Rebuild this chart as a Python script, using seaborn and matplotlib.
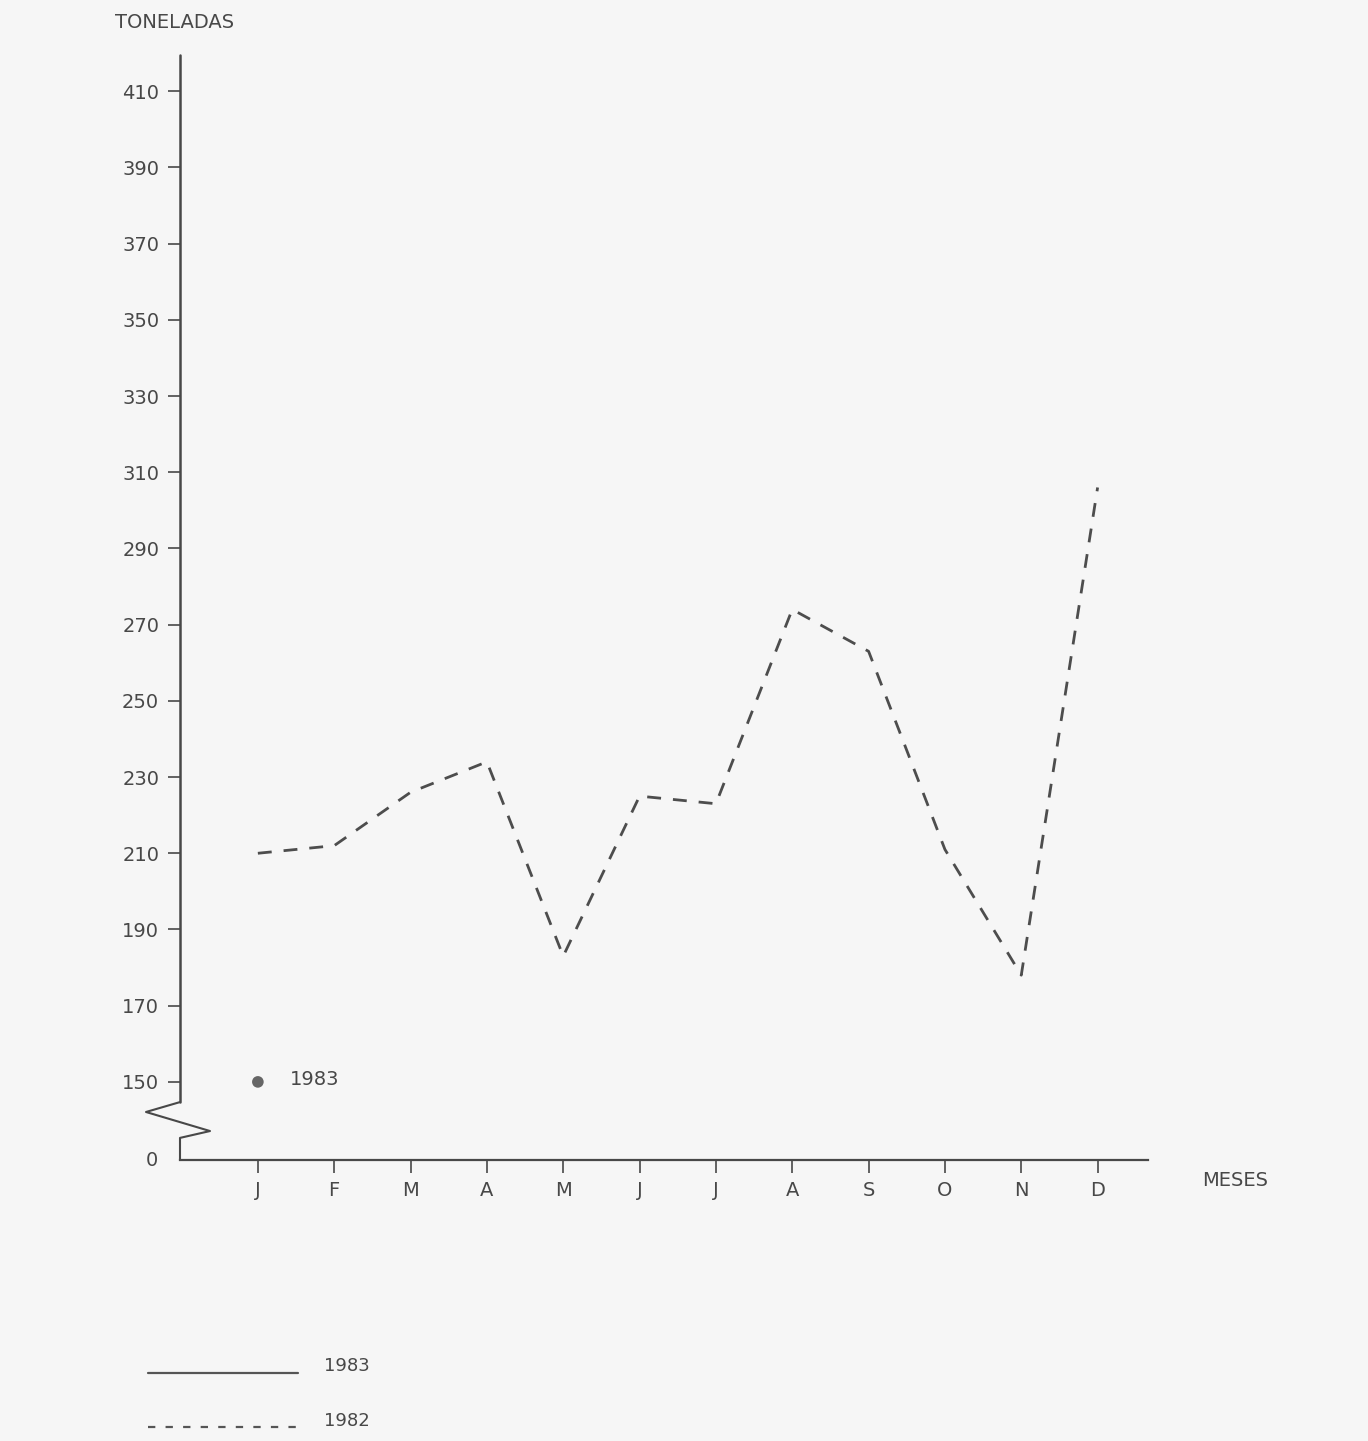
import matplotlib
matplotlib.use("Agg")
import matplotlib.pyplot as plt
from matplotlib.lines import Line2D
import seaborn as sns
import pandas as pd

# Data
months = ["J", "F", "M", "A", "M", "J", "J", "A", "S", "O", "N", "D"]
tons_1982 = [210, 212, 226, 234, 183, 225, 223, 274, 263, 211, 178, 306]
tons_1983 = [150]          # only January available
y_ticks = [150, 170, 190, 210, 230, 250, 270, 290, 310, 330, 350, 370, 390, 410]

Y_ZERO = 129.5             # where the broken axis shows "0"
INK = "#484848"

df82 = pd.DataFrame({"mes": range(len(months)), "t": tons_1982})
df83 = pd.DataFrame({"mes": range(len(tons_1983)), "t": tons_1983})

sns.set_style("white")
plt.rcParams["font.family"] = ["DejaVu Sans"]

fig = plt.figure(figsize=(13.68, 14.41), dpi=100, facecolor="#f6f6f6")
ax = fig.add_axes([180 / 1368, 281 / 1441, 968 / 1368, 1105 / 1441])
ax.set_facecolor("none")

sns.lineplot(data=df82, x="mes", y="t", ax=ax, color="#4d4d4d", linewidth=2.0,
             linestyle=(0, (5, 4.3)))
sns.scatterplot(data=df83, x="mes", y="t", ax=ax, color="#666666", s=70,
                edgecolor="none")
ax.annotate("1983", (0, tons_1983[0]), xytext=(23, 2), textcoords="offset points",
            va="center", ha="left", fontsize=14, color=INK)

ax.set_xlim(-1.02, 11.66)
ax.set_ylim(Y_ZERO, 419.5)
ax.set_xticks(range(len(months)))
ax.set_xticklabels(months)
ax.set_yticks(y_ticks)
ax.set_yticklabels([str(v) for v in y_ticks])
ax.tick_params(axis="both", direction="out", colors=INK, labelsize=14,
               length=9, width=1.2, labelcolor=INK, left=True, bottom=True)
ax.tick_params(axis="x", pad=6)
ax.tick_params(axis="y", pad=6)
ax.set_xlabel("")
ax.set_ylabel("")

for side in ["top", "right", "left"]:
    ax.spines[side].set_visible(False)
ax.spines["bottom"].set_color(INK)
ax.spines["bottom"].set_linewidth(1.6)

# broken left axis with zig-zag
def yp(v):
    return ax.transData.transform((0, v))[1] / fig.bbox.height

def xp(px):
    return px / 1368

brk_top, brk_1, brk_2, brk_bot = 144.7, 142.1, 137.1, 135.3
fig.add_artist(Line2D([xp(180), xp(180)], [yp(419.5), yp(brk_top)],
                      color=INK, linewidth=1.8))
fig.add_artist(Line2D([xp(180), xp(146), xp(210), xp(180), xp(180)],
                      [yp(brk_top), yp(brk_1), yp(brk_2), yp(brk_bot), yp(Y_ZERO)],
                      color=INK, linewidth=1.5))
ax.annotate("0", (-1.02, Y_ZERO), xytext=(-16, 0), textcoords="offset points",
            ha="right", va="center", fontsize=14, color=INK)

# axis titles
fig.text(175 / 1368, 1 - 22 / 1441, "TONELADAS", ha="center", va="center",
         fontsize=14, color=INK)
fig.text(1235 / 1368, 1 - 1180 / 1441, "MESES", ha="center", va="center",
         fontsize=14, color=INK)

# legend at the bottom
fig.add_artist(Line2D([xp(148), xp(298)], [1 - 1373 / 1441] * 2,
                      color="#555555", linewidth=1.6))
fig.add_artist(Line2D([xp(148), xp(298)], [1 - 1427 / 1441] * 2,
                      color="#555555", linewidth=1.6, linestyle=(0, (3.3, 4.6))))
fig.text(324 / 1368, 1 - 1366 / 1441, "1983", ha="left", va="center",
         fontsize=13, color=INK)
fig.text(324 / 1368, 1 - 1421 / 1441, "1982", ha="left", va="center",
         fontsize=13, color=INK)

fig.savefig("out.png", dpi=100, facecolor=fig.get_facecolor())
